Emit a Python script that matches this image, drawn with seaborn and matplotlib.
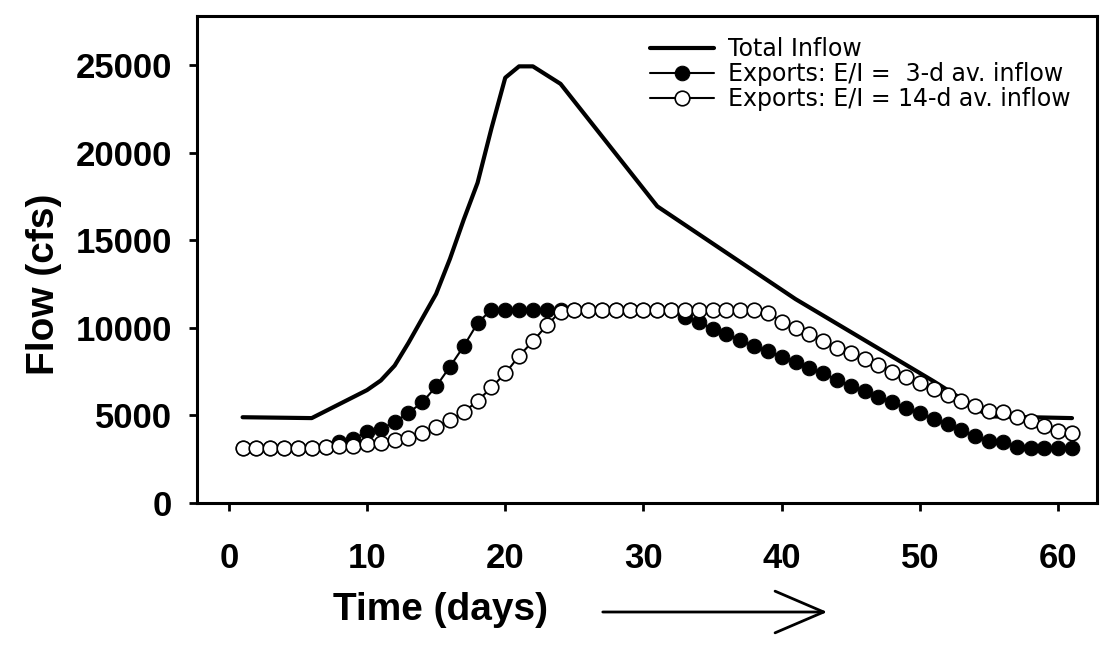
import numpy as np
import pandas as pd
import seaborn as sns
import matplotlib.pyplot as plt

# Total inflow (vertices of the line)
inflow_days = [1, 6, 8, 10, 11, 12, 13, 14, 15, 16, 17, 18, 19, 20, 21, 22, 24, 31, 41, 51, 55, 61]
inflow_cfs = [4900, 4850, 5650, 6450, 7000, 7850, 9150, 10550, 11950, 13950, 16200, 18300,
              21400, 24300, 24950, 24950, 23950, 16950, 11650, 6950, 4950, 4850]

days = list(range(1, 62))

# Exports, E/I with 3-day averaged inflow
exp_3d = [3150, 3150, 3150, 3150, 3150, 3170, 3190, 3500, 3680, 4050,
          4230, 4630, 5150, 5750, 6660, 7790, 8960, 10280, 11050, 11050,
          11050, 11050, 11050, 11050, 11050, 11050, 11050, 11050, 11050, 11050,
          11050, 11050, 10640, 10340, 9950, 9660, 9300, 8970, 8660, 8370,
          8070, 7700, 7400, 7050, 6700, 6400, 6070, 5750, 5420, 5120,
          4780, 4540, 4160, 3810, 3550, 3500, 3200, 3170, 3150, 3130,
          3120]

# Exports, E/I with 14-day averaged inflow
exp_14d = [3150, 3150, 3150, 3150, 3150, 3170, 3190, 3230, 3270, 3360,
           3450, 3580, 3720, 4000, 4370, 4740, 5210, 5820, 6610, 7400,
           8400, 9240, 10150, 10940, 11050, 11050, 11050, 11050, 11050, 11050,
           11050, 11050, 11050, 11050, 11050, 11050, 11050, 11000, 10880, 10370,
           9980, 9630, 9250, 8870, 8550, 8200, 7900, 7510, 7180, 6860,
           6520, 6190, 5840, 5540, 5240, 5220, 4930, 4670, 4400, 4140,
           3980]

sns.set_style('ticks')
plt.rcParams['font.family'] = ['Liberation Sans', 'DejaVu Sans']
plt.rcParams['text.color'] = 'black'
plt.rcParams['axes.labelcolor'] = 'black'

fig = plt.figure(figsize=(11.11, 6.46), dpi=100)
ax = fig.add_axes([0.1773, 0.2214, 0.81, 0.7539])

sns.lineplot(x=inflow_days, y=inflow_cfs, ax=ax, color='black', linewidth=3,
             label='Total Inflow', zorder=2)
sns.lineplot(x=days, y=exp_3d, ax=ax, color='black', linewidth=1.5, marker='o',
             markersize=10.5, markerfacecolor='black', markeredgecolor='black',
             label='Exports: E/I =  3-d av. inflow', zorder=3)
sns.lineplot(x=days, y=exp_14d, ax=ax, color='black', linewidth=1.5, marker='o',
             markersize=10.5, markerfacecolor='white', markeredgecolor='black',
             markeredgewidth=1.2, label='Exports: E/I = 14-d av. inflow', zorder=4)

ax.set_xlim(-2.3, 62.8)
ax.set_ylim(0, 27830)
ax.set_xticks([0, 10, 20, 30, 40, 50, 60])
ax.set_yticks([0, 5000, 10000, 15000, 20000, 25000])

for s in ax.spines.values():
    s.set_visible(True)
    s.set_linewidth(2.2)
    s.set_color('black')

ax.tick_params(axis='both', direction='out', length=6, width=2, colors='black',
               labelsize=25)
ax.tick_params(axis='y', pad=12)
ax.tick_params(axis='x', pad=22)
for lab in ax.get_xticklabels() + ax.get_yticklabels():
    lab.set_fontweight('bold')

ax.set_xlabel('Time (days)', fontsize=28, fontweight='bold', color='black')
ax.set_ylabel('Flow (cfs)', fontsize=28, fontweight='bold', color='black')
ax.xaxis.set_label_coords(0.271, -0.183)
ax.yaxis.set_label_coords(-0.15, 0.448)

leg = ax.legend(loc='upper left', bbox_to_anchor=(650 / 1111, 1 - 37 / 646),
                bbox_transform=fig.transFigure, frameon=False,
                prop={'family': 'DejaVu Sans', 'size': 17},
                handlelength=2.7, handletextpad=0.6, labelspacing=0.05,
                borderpad=0, borderaxespad=0)
for t in leg.get_texts():
    t.set_color('black')

# arrow after the x label
ax.annotate('', xy=(830 / 1111, 1 - 612 / 646), xytext=(600 / 1111, 1 - 612 / 646),
            xycoords='figure fraction', textcoords='figure fraction',
            arrowprops=dict(arrowstyle='->,head_length=1.4,head_width=0.6',
                            color='black', lw=2, mutation_scale=25),
            annotation_clip=False)

fig.savefig('out.png', dpi=100)
